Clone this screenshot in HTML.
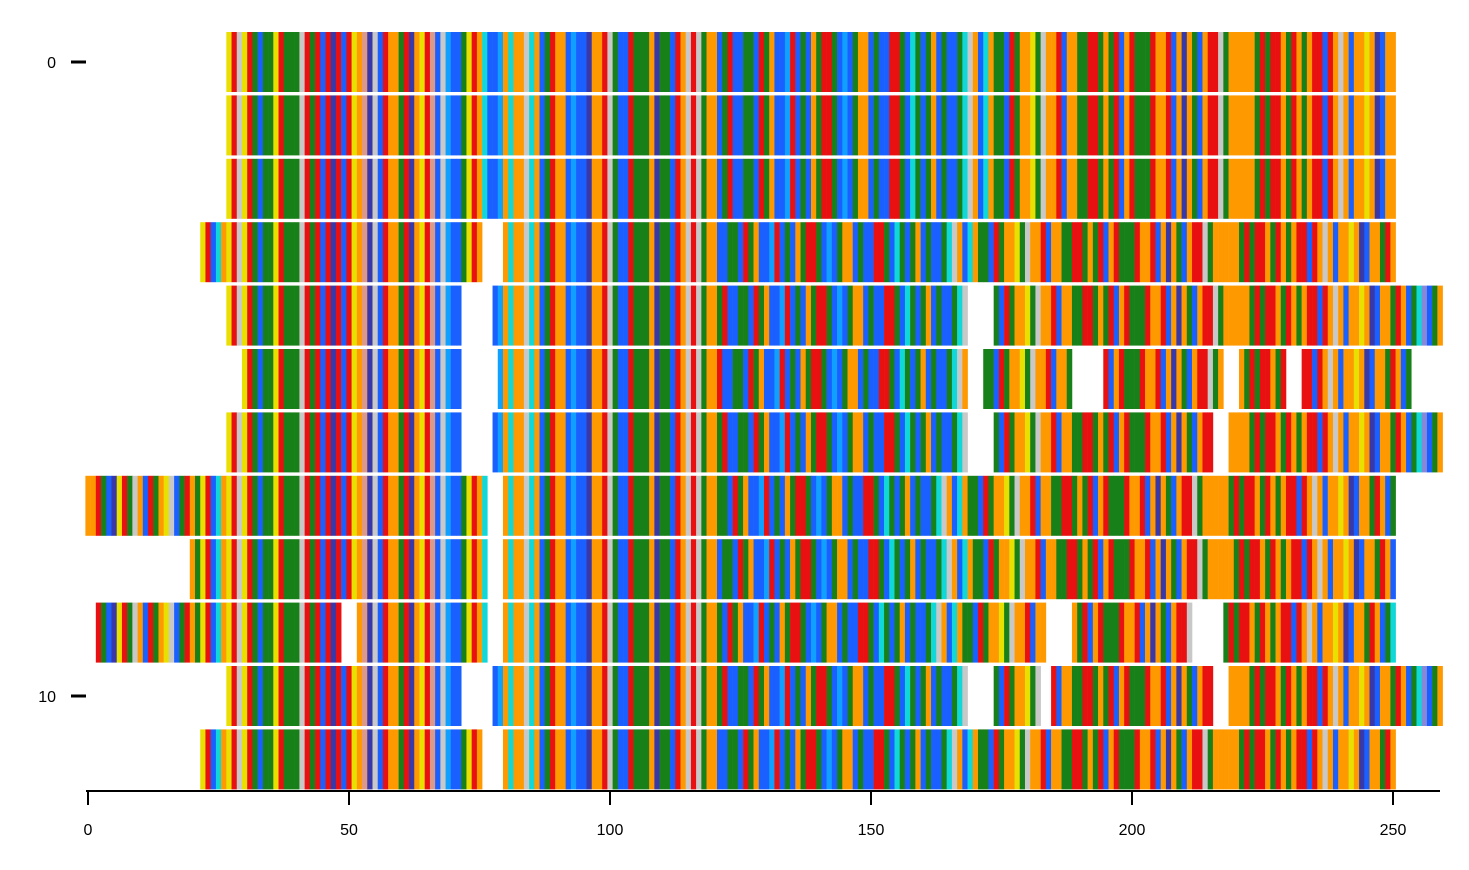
<!DOCTYPE html>
<html><head><meta charset="utf-8">
<style>
html,body{margin:0;padding:0;background:#fff;}
svg{display:block;font-family:"Liberation Sans",sans-serif;}
</style></head>
<body>
<svg id="chart" width="1469" height="870"></svg>
<script>
// consensus residue classes (one letter per alignment column)
const baseSeq = "oorgbnyrgl"+"obrgoylbgr"+"ogyrbcoyrl"+"yrgbggyrgg"+"glrgrbrnrb"+"ryopnlbroo"+"grnoyrpbls"+"bbgyrocbbs"+"ocoolcobgr"+"oobsbbnoor"+"lgbbrgggon"+"ggbrolrlgo"+"obgrbbggbr"+"gobbsrbgbo"+"grrgbsbgoo"+"bgbbrrgbcg"+"bgobgbbgcl"+"obcoggbrgo"+"oygloorboo"+"ggrrgogrbo"+"rgggroorbo"+"nogborrlgo"+"oooogrgrro"+"grogorrbro"+"lobooyonbo"+"ogrobgcvbg"+"obgrbcgobg";
// per-row alignment extents
const rowStart = [27,27,27,22,27,30,27,0,20,2,27,22];
const rowEnd   = [250,250,250,250,259,253,259,250,250,250,259,250];
const rowShift = [0,0,0,3,1,2,1,5,4,6,1,3];
// gaps [from,to] per row
const rowGaps = [
 [],[],[],
 [[76,79]],
 [[72,77],[169,173]],
 [[72,78],[169,171],[189,194],[218,220],[230,232]],
 [[72,77],[169,173],[216,218]],
 [[77,79]],
 [[77,79]],
 [[49,51],[77,79],[184,188],[212,217]],
 [[72,77],[169,173],[183,184],[216,218]],
 [[76,79]]
];
const xTicks = [0,50,100,150,200,250];
const yTicks = [0,10];

const colors = {o:"#ff9900",r:"#e81010",g:"#188018",b:"#1a5fff",c:"#10d8d8",y:"#e8e000",
 l:"#c8c8c8",n:"#3838a8",p:"#dd9988",v:"#8888d8",s:"#10a0ff"};
const svg = document.getElementById('chart');
const NS = "http://www.w3.org/2000/svg";
const X = v => 88 + v*5.22;
const Y = r => 62 + r*63.4;
function mk(tag, attrs){const e=document.createElementNS(NS,tag);for(const k in attrs)e.setAttribute(k,attrs[k]);svg.appendChild(e);return e;}

for(let r=0;r<rowStart.length;r++){
  const g=document.createElementNS(NS,'g');
  
  
  svg.appendChild(g);
  for(let i=rowStart[r];i<=rowEnd[r];i++){
    if(rowGaps[r].some(gp=>i>=gp[0]&&i<=gp[1])) continue;
    const ch = baseSeq[(i+rowShift[r]*(i>120?1:0))%baseSeq.length];
    const rect=document.createElementNS(NS,'rect');
    rect.setAttribute('x',X(i-0.5));
    rect.setAttribute('y',Y(r)-30);
    rect.setAttribute('width',5.5);
    rect.setAttribute('height',60);
    rect.setAttribute('fill',colors[ch]||"#ff9900");
    
    
    g.appendChild(rect);
  }
}
// x axis
const xa=mk('line',{x1:86,x2:1440,y1:791,y2:791,stroke:'#000','stroke-width':2});


xTicks.forEach(t=>{
  const tk=mk('line',{x1:X(t),x2:X(t),y1:791,y2:805,stroke:'#000','stroke-width':2});
  
  
  const tx=mk('text',{x:X(t),y:835,'text-anchor':'middle','font-size':16});
  tx.textContent=t;
  
  
});
yTicks.forEach(t=>{
  const tk=mk('line',{x1:71,x2:86,y1:Y(t),y2:Y(t),stroke:'#000','stroke-width':3});
  
  
  const tx=mk('text',{x:56,y:Y(t)+6,'text-anchor':'end','font-size':16});
  tx.textContent=t;
  
  
});
</script>
</body></html>
